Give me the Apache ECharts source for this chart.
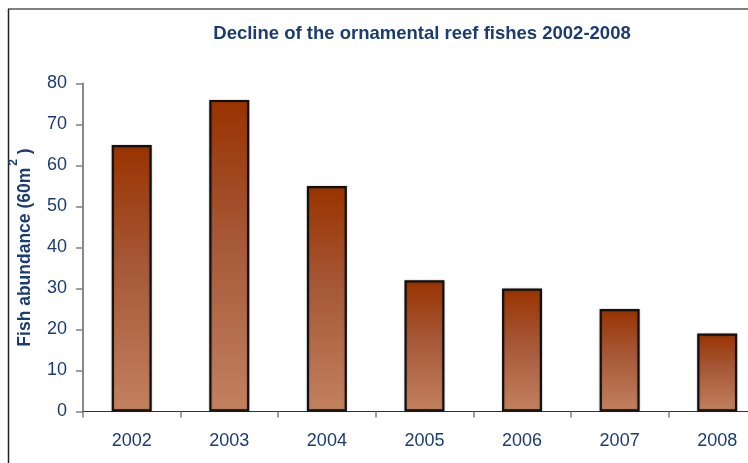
<!DOCTYPE html>
<html>
<head>
<meta charset="utf-8">
<script src="https://cdn.jsdelivr.net/npm/echarts@6/dist/echarts.min.js"></script>
<style>
  html, body { margin: 0; padding: 0; background: #ffffff; overflow: hidden; width: 748px; height: 463px; }
  /* the drawing surface is a little wider than the window so the last category runs off the right edge */
  #chart { width: 770px; height: 463px; }
</style>
</head>
<body>
<div id="chart"></div>
<script>
// Survey years and mean fish counts per 60 m² transect
const years = ['2002', '2003', '2004', '2005', '2006', '2007', '2008'];
const abundance = [65, 76, 55, 32, 30, 25, 19];
const yTicks = { min: 0, max: 80, interval: 10 };

const navy = '#1a3c70';
const font = 'Liberation Sans, Arial, sans-serif';

const chart = echarts.init(document.getElementById('chart'), null, { renderer: 'canvas' });

chart.setOption({
  animation: false,
  backgroundColor: '#ffffff',
  title: {
    text: 'Decline of the ornamental reef fishes 2002-2008',
    left: 417,
    textAlign: 'center',
    top: 19,
    textStyle: { color: navy, fontSize: 18.5, fontWeight: 'bold', fontFamily: font }
  },
  graphic: [
    // outer frame: grey top rule and dark left rule
    { type: 'line', shape: { x1: 8, y1: 9, x2: 770, y2: 9 }, style: { stroke: '#808080', lineWidth: 2 } },
    { type: 'line', shape: { x1: 8.5, y1: 9, x2: 8.5, y2: 463 }, style: { stroke: '#222222', lineWidth: 1.5 } }
  ],
  grid: { left: 82, width: 684, top: 83.5, bottom: 51.5, containLabel: false },
  xAxis: {
    type: 'category',
    data: years,
    boundaryGap: true,
    axisLine: { lineStyle: { color: '#333333', width: 1 } },
    axisTick: { show: true, alignWithLabel: false, length: 6, lineStyle: { color: '#808080', width: 1.5 } },
    axisLabel: { color: navy, fontSize: 18, margin: 21, fontFamily: font }
  },
  yAxis: {
    type: 'value',
    min: yTicks.min,
    max: yTicks.max,
    interval: yTicks.interval,
    splitLine: { show: false },
    axisLine: { show: true, lineStyle: { color: '#8a8a8a', width: 2 } },
    axisTick: { show: true, length: 7, lineStyle: { color: '#808080', width: 1.5 } },
    axisLabel: { color: navy, fontSize: 18, margin: 16, fontFamily: font },
    name: '{a|Fish abundance (60m}{s|2}{a| )}',
    nameLocation: 'middle',
    nameRotate: 90,
    nameGap: 41,
    nameTextStyle: {
      color: navy,
      fontFamily: font,
      rich: {
        a: { color: navy, fontSize: 17.5, fontWeight: 'bold', lineHeight: 22, fontFamily: font },
        s: { color: navy, fontSize: 12, fontWeight: 'bold', verticalAlign: 'bottom', padding: [0, 0, 16, 2], lineHeight: 22, fontFamily: font }
      }
    }
  },
  series: [{
    type: 'bar',
    data: abundance,
    barWidth: 40,
    itemStyle: {
      borderColor: '#111111',
      borderWidth: 2.2,
      shadowColor: 'rgba(0,0,0,0.25)',
      shadowBlur: 2,
      color: new echarts.graphic.LinearGradient(0, 0, 0, 1, [
        { offset: 0, color: '#993300' },
        { offset: 0.45, color: '#a65838' },
        { offset: 1, color: '#c2815f' }
      ])
    }
  }]
});
</script>
</body>
</html>
